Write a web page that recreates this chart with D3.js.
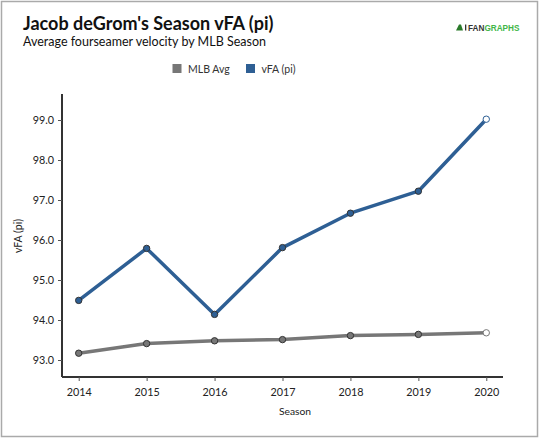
<!DOCTYPE html>
<html><head><meta charset="utf-8">
<script src="https://cdn.jsdelivr.net/npm/d3@7"></script>
<style>body{margin:0;background:#fff;}svg{display:block;}</style>
</head><body>
<svg id="c" width="540" height="439"></svg>
<script>
(function(){
const seasons = [2014, 2015, 2016, 2017, 2018, 2019, 2020];
const mlbAvg = [93.17, 93.41, 93.48, 93.51, 93.61, 93.64, 93.68];
const vfa = [94.49, 95.79, 94.14, 95.81, 96.67, 97.22, 99.02];
const yTicks = [93, 94, 95, 96, 97, 98, 99];
const seriesNames = ["MLB Avg", "vFA (pi)"];
const colors = ["#777777", "#2e5f94"];

const svg = d3.select("#c");
svg.append("rect").attr("x",1.5).attr("y",1.5).attr("width",536).attr("height",435)
  .attr("fill","#fff").attr("stroke","#aaa").attr("stroke-width",1.5);

const mLeft = 62, mRight = 503, mTop = 94, mBottom = 377;
const x = d3.scaleLinear().domain([2013.754, 2020.246]).range([mLeft, mRight]);
const y = d3.scaleLinear().domain([92.575, 99.65]).range([mBottom, mTop]);

// title
svg.append("text").attr("x",23).attr("y",30).attr("font-family","Lato")
  .attr("font-weight","bold").attr("font-size",18).attr("fill","#111")
  .text("Jacob deGrom's Season vFA (pi)");
svg.append("text").attr("x",23).attr("y",46).attr("font-family","Lato")
  .attr("font-size",12.5).attr("fill","#111")
  .text("Average fourseamer velocity by MLB Season");

// logo
const logo = svg.append("g");
logo.append("path").attr("d","M456 30.5 L459 24.5 L461 24.5 L463 30.5 Z").attr("fill","#2a7a2a");
logo.append("rect").attr("x",465).attr("y",24.5).attr("width",1.3).attr("height",6).attr("fill","#333");
const lt = logo.append("text").attr("x",468).attr("y",30.5).attr("font-family","Liberation Sans")
  .attr("font-weight","bold").attr("font-size",8.2);
lt.append("tspan").attr("fill","#333").text("FAN");
lt.append("tspan").attr("fill","#43b649").text("GRAPHS");

// legend
const lg = svg.append("g");
const legX = [172.5, 246];
seriesNames.forEach((n,i)=>{
  lg.append("rect").attr("x",legX[i]).attr("y",64).attr("width",9).attr("height",9).attr("fill",colors[i]);
  lg.append("text").attr("x",legX[i]+15.5).attr("y",73).attr("font-family","Lato")
    .attr("font-size",10.5).attr("fill","#333").text(n);
});

// axes
const gx = svg.append("g").attr("transform",`translate(0,${mBottom})`)
  .call(d3.axisBottom(x).tickValues(seasons).tickFormat(d3.format("d")).tickSize(4).tickSizeOuter(0));
const gy = svg.append("g").attr("transform",`translate(${mLeft},0)`)
  .call(d3.axisLeft(y).tickValues(yTicks).tickFormat(d3.format(".1f")).tickSize(4).tickSizeOuter(0));
[gx,gy].forEach(g=>{
  g.select(".domain").attr("stroke","#333").attr("stroke-width",2);
  g.selectAll(".tick line").attr("stroke","#555");
  g.selectAll(".tick text").attr("font-family","Lato").attr("font-size",10.8).attr("fill","#222");
});
gx.select(".domain").attr("d",`M${mLeft},0H${mRight}`);
gy.select(".domain").attr("d",`M0,${mTop}V${mBottom}`);
gx.selectAll(".tick text").attr("dy","1.15em");
gy.selectAll(".tick text").attr("x",-8);

svg.append("text").attr("x",295).attr("y",415).attr("text-anchor","middle")
  .attr("font-family","Lato").attr("font-size",10.3).attr("fill","#222").text("Season");
svg.append("text").attr("transform","translate(22,236) rotate(-90)").attr("text-anchor","middle")
  .attr("font-family","Lato").attr("font-size",10.5).attr("fill","#222").text("vFA (pi)");

// lines
const line = d3.line().x((d,i)=>x(seasons[i])).y(d=>y(d));
[mlbAvg, vfa].forEach((s,k)=>{
  svg.append("path").datum(s).attr("d",line).attr("fill","none")
    .attr("stroke",colors[k]).attr("stroke-width",3.5).attr("stroke-linejoin","round");
  svg.selectAll(null).data(s).enter().append("circle")
    .attr("cx",(d,i)=>x(seasons[i])).attr("cy",d=>y(d)).attr("r",3.2)
    .attr("fill",(d,i)=> i===s.length-1 ? "#fff" : colors[k])
    .attr("stroke",(d,i)=> i===s.length-1 ? colors[k] : "#333").attr("stroke-width",1);
});
})();
</script>
</body></html>
